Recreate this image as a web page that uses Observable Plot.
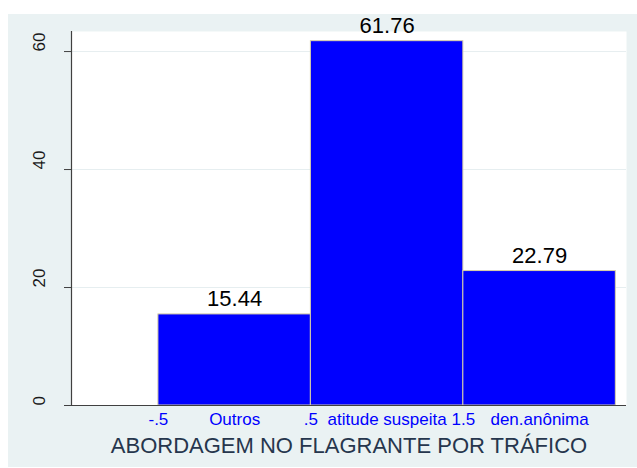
<!DOCTYPE html>
<html>
<head>
<meta charset="utf-8">
<script src="https://cdn.jsdelivr.net/npm/d3@7"></script>
<script src="https://cdn.jsdelivr.net/npm/@observablehq/plot@0.6"></script>
<style>
  html, body { margin: 0; padding: 0; background: white; }
  #chart { width: 637px; height: 468px; }
</style>
</head>
<body>
<div id="chart"></div>
<script>
// Data
const categories = ["Outros", "atitude suspeita", "den.anônima"];
const categoryCodes = [0, 1, 2];
const percents = [15.44, 61.76, 22.79];
const xTickValues = [-0.5, 0, 0.5, 1, 1.5, 2];
const xTickLabels = ["-.5", "Outros", ".5", "atitude suspeita", "1.5", "den.anônima"];
const yTicks = [0, 20, 40, 60];
const xTitle = "ABORDAGEM NO FLAGRANTE POR TRÁFICO";

const xDomain = [-1.07, 2.57];
const yDomain = [0, 63.4];

const data = categories.map((c, i) => ({category: c, code: categoryCodes[i], value: percents[i]}));
const xTicks = xTickValues.map((v, i) => ({v, label: xTickLabels[i]}));

const chart = Plot.plot({
  width: 637,
  height: 468,
  marginLeft: 71,
  marginRight: 11,
  marginTop: 31,
  marginBottom: 63,
  x: {domain: xDomain, axis: null},
  y: {domain: yDomain, axis: null},
  style: {
    fontFamily: "'Liberation Sans', Arial, sans-serif",
    background: "linear-gradient(#eaf2f3, #eaf2f3) 8px 14px / 629px 453px no-repeat, white",
    overflow: "visible"
  },
  marks: [
    Plot.frame({fill: "white", stroke: null}),
    Plot.gridY(yTicks, {stroke: "#e6eef0", strokeOpacity: 1, strokeWidth: 1}),
    Plot.rectY(data, {
      x1: d => d.code - 0.5,
      x2: d => d.code + 0.5,
      y: "value",
      fill: "#0000ff",
      stroke: "#d9d0a6",
      strokeWidth: 1
    }),
    Plot.text(data, {
      x: "code",
      y: "value",
      text: d => d.value.toFixed(2),
      lineAnchor: "bottom",
      dy: -8,
      fontSize: 22,
      fill: "#000"
    }),
    Plot.ruleX([xDomain[0]], {stroke: "#404040", strokeWidth: 1.2}),
    Plot.ruleY([0], {stroke: "#404040", strokeWidth: 1.2}),
    Plot.axisY({ticks: yTicks, tickSize: 7, tickFormat: () => "", label: null, stroke: "#404040"}),
    Plot.text(yTicks, {
      y: d => d,
      text: d => String(d),
      frameAnchor: "left",
      dx: -32,
      rotate: -90,
      fontSize: 17,
      fill: "#1a1a1a"
    }),
    Plot.text(xTicks, {
      x: "v",
      text: "label",
      frameAnchor: "bottom",
      lineAnchor: "bottom",
      dy: 19,
      fontSize: 17,
      fill: "#0000ff"
    }),
    Plot.text([xTitle], {
      text: d => d,
      frameAnchor: "bottom",
      lineAnchor: "bottom",
      dy: 47,
      fontSize: 22,
      fill: "#26364d"
    })
  ]
});

document.getElementById("chart").appendChild(chart);
</script>
</body>
</html>
